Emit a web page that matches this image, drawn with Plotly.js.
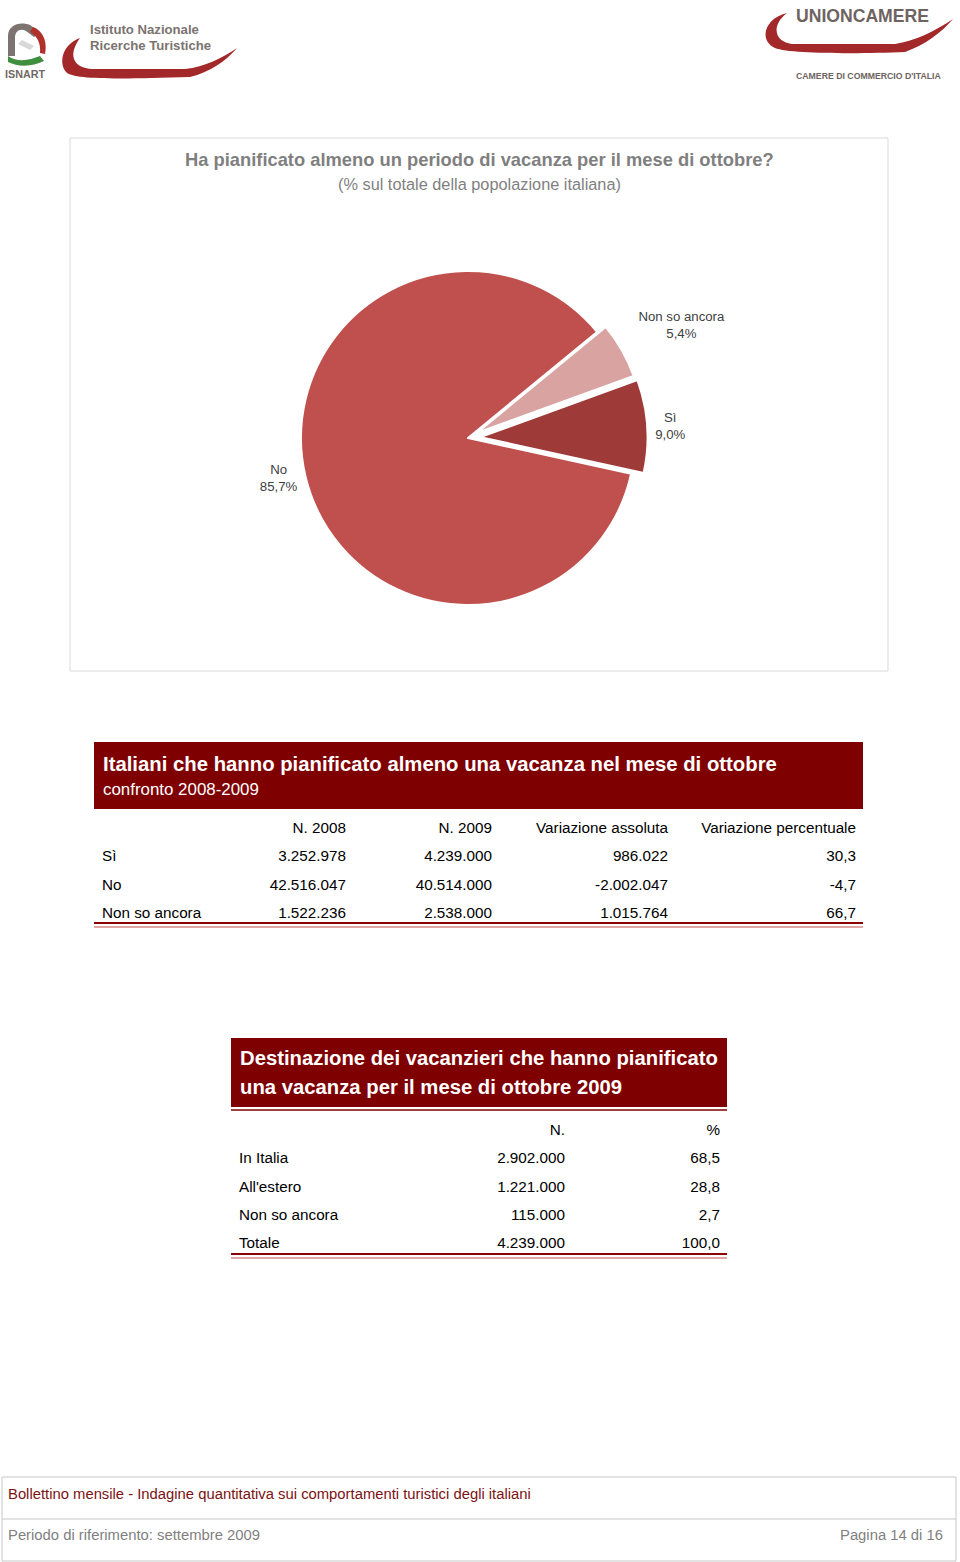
<!DOCTYPE html>
<html><head><meta charset="utf-8">
<script src="https://cdn.plot.ly/plotly-3.0.1.min.js"></script>
<style>html,body{margin:0;padding:0;background:#fff;} #page{width:960px;height:1562px;}</style>
</head><body><div id="page"></div>
<script>
// ---------- data ----------
const pieLabels = ['Sì', 'Non so ancora', 'No'];
const pieValues = [9.0, 5.4, 85.7];

const t1Columns = ['', 'N. 2008', 'N. 2009', 'Variazione assoluta', 'Variazione percentuale'];
const t1Rows = ['Sì', 'No', 'Non so ancora'];
const t1N2008 = ['3.252.978', '42.516.047', '1.522.236'];
const t1N2009 = ['4.239.000', '40.514.000', '2.538.000'];
const t1VarAbs = ['986.022', '-2.002.047', '1.015.764'];
const t1VarPct = ['30,3', '-4,7', '66,7'];

const t2Columns = ['', 'N.', '%'];
const t2Rows = ['In Italia', "All'estero", 'Non so ancora', 'Totale'];
const t2N = ['2.902.000', '1.221.000', '115.000', '4.239.000'];
const t2Pct = ['68,5', '28,8', '2,7', '100,0'];

// ---------- helpers ----------
const W = 960, H = 1562;
const F = '"Liberation Sans", Arial, sans-serif';
const ctx = document.createElement('canvas').getContext('2d');
const fit = (text, w, bold) => { ctx.font = (bold ? 'bold ' : '') + '100px ' + F; return +(100 * w / ctx.measureText(text).width).toFixed(2); };
const px = x => x / W;
const py = y => 1 - y / H;
const P = s => s.replace(/(-?\d+\.?\d*),(-?\d+\.?\d*)/g, (m, a, b) => px(+a).toFixed(5) + ',' + py(+b).toFixed(5));
const rect = (x0, y0, x1, y1, o) => Object.assign({type: 'rect', xref: 'paper', yref: 'paper', x0: px(x0), x1: px(x1), y0: py(y1), y1: py(y0), line: {width: 0}}, o);
const hline = (x0, x1, y, color, w) => ({type: 'line', xref: 'paper', yref: 'paper', x0: px(x0), x1: px(x1), y0: py(y), y1: py(y), line: {color: color, width: w}});
const path = (s, fill) => ({type: 'path', xref: 'paper', yref: 'paper', path: P(s), fillcolor: fill, line: {width: 0}});
const ann = (text, x, y, size, color, xanchor, bold) => ({
  text: bold ? '<b>' + text + '</b>' : text, x: px(x), y: py(y), xref: 'paper', yref: 'paper',
  xanchor: xanchor || 'left', yanchor: 'middle', showarrow: false, borderpad: 0,
  font: {family: F, size: size, color: color}
});

const maroon = '#7f0000';

// ---------- traces ----------
const pieR = 167, maxPull = 0.075, cx = 468, cy = 438;
const half = pieR * (1 + maxPull);
const pie = {
  type: 'pie', labels: pieLabels, values: pieValues, sort: false,
  direction: 'counterclockwise', rotation: 70,
  pull: [0.075, 0.06, 0],
  marker: {colors: ['#9e3b39', '#d9a3a2', '#c0504d'], line: {color: '#ffffff', width: 2}},
  text: pieValues.map(v => v.toFixed(1).replace('.', ',') + '%'),
  texttemplate: ['%{label}<br>%{text}', '%{label}<br>%{text}<br>\u00a0<br>\u00a0', '%{label}<br>%{text}'],
  textposition: 'outside',
  textfont: {family: F, size: fit('Non so ancora', 86, false), color: '#404040'},
  hoverinfo: 'none', showlegend: false,
  domain: {x: [px(cx - half), px(cx + half)], y: [py(cy + half), py(cy - half)]}
};

const tSize = fit('Variazione percentuale', 155, false);
const tableFont = {family: F, size: tSize, color: '#000000'};
const noLine = {width: 0, color: 'rgba(0,0,0,0)'};
const clear = {color: 'rgba(0,0,0,0)'};
const table1 = {
  type: 'table',
  domain: {x: [px(94), px(864)], y: [py(1000), py(814)]},
  columnwidth: [156, 104, 146, 176, 188],
  header: {values: t1Columns, align: ['left', 'right', 'right', 'right', 'right'], height: 28, fill: clear, line: noLine, font: tableFont},
  cells: {values: [t1Rows, t1N2008, t1N2009, t1VarAbs, t1VarPct], align: ['left', 'right', 'right', 'right', 'right'], height: 28.3, fill: clear, line: noLine, font: tableFont}
};
const table2 = {
  type: 'table',
  domain: {x: [px(231), px(728)], y: [py(1300), py(1116)]},
  columnwidth: [169, 173, 155],
  header: {values: t2Columns, align: ['left', 'right', 'right'], height: 28, fill: clear, line: noLine, font: tableFont},
  cells: {values: [t2Rows, t2N, t2Pct], align: ['left', 'right', 'right'], height: 28.2, fill: clear, line: noLine, font: tableFont}
};

// ---------- decorations ----------
const shapes = [
  rect(70, 138, 888, 671, {line: {color: '#d9d9d9', width: 1}}),
  rect(94, 742, 863, 809, {fillcolor: maroon}),
  hline(94, 863, 923, '#8b0000', 2),
  hline(94, 863, 927, '#c0504d', 1),
  rect(231, 1038, 727, 1107, {fillcolor: maroon}),
  hline(231, 727, 1110, maroon, 1.5),
  hline(231, 727, 1254, '#8b0000', 2),
  hline(231, 727, 1258, '#c0504d', 1),
  rect(2, 1477, 956, 1561, {line: {color: '#c8c8c8', width: 1}}),
  hline(2, 956, 1519, '#c8c8c8', 1),
  // ISNART swoosh
  path('M 80,38 C 63,44 58,62 66,72 C 74,80 120,79 190,77 C 210,72 225,62 237,48 C 222,58 205,67 185,69 L 92,69 C 74,68 67,56 80,38 Z', '#a3282a'),
  // ISNART emblem
  path('M 8,56 L 8,36 C 8,25 20,21 30,25 L 40,32 L 34,37 L 26,31 C 20,28 15,31 15,38 L 15,56 Z', '#7d7370'),
  path('M 8,56 C 18,63 30,60 40,56 L 44,61 C 32,67 18,67 8,62 Z', '#3f8f3f'),
  path('M 33,27 C 42,30 48,41 45,54 L 40,53 C 41,43 37,36 30,32 Z', '#b0302c'),
  path('M 22,40 L 34,46 L 30,50 L 18,44 Z', '#d8d8d8'),
  // Unioncamere swoosh
  path('M 787,13 C 765,18 758,40 775,48 C 790,54 860,54 905,52 C 925,45 942,32 953,19 C 935,31 915,41 895,44 L 792,44 C 774,42 771,25 787,13 Z', '#a3282a')
];

const T = {
  title: 'Ha pianificato almeno un periodo di vacanza per il mese di ottobre?',
  sub: '(% sul totale della popolazione italiana)',
  t1a: 'Italiani che hanno pianificato almeno una vacanza nel mese di ottobre',
  t1b: 'confronto 2008-2009',
  t2a: 'Destinazione dei vacanzieri che hanno pianificato',
  t2b: 'una vacanza per il mese di ottobre 2009',
  f1: 'Bollettino mensile - Indagine quantitativa sui comportamenti turistici degli italiani',
  f2: 'Periodo di riferimento: settembre 2009',
  f3: 'Pagina 14 di 16'
};
const fSize = fit(T.f1, 523, false);
const t2Size = fit(T.t2a, 478, true);
const annotations = [
  ann(T.title, 479, 160, fit(T.title, 589, true), '#7f7f7f', 'center', true),
  ann(T.sub, 479, 184, fit(T.sub, 283, false), '#7f7f7f', 'center', false),
  ann(T.t1a, 102, 764, fit(T.t1a, 674, true), '#ffffff', 'left', true),
  ann(T.t1b, 102, 790, fit(T.t1b, 156, false), '#ffffff', 'left', false),
  ann(T.t2a, 239, 1058, t2Size, '#ffffff', 'left', true),
  ann(T.t2b, 239, 1087, t2Size, '#ffffff', 'left', true),
  ann(T.f1, 7, 1494, fSize, '#7b1113', 'left', false),
  ann(T.f2, 7, 1535, fSize, '#7f7f7f', 'left', false),
  ann(T.f3, 944, 1535, fSize, '#7f7f7f', 'right', false),
  ann('Istituto Nazionale', 89, 30, fit('Istituto Nazionale', 109, true), '#7a7370', 'left', true),
  ann('Ricerche Turistiche', 89, 46, fit('Istituto Nazionale', 109, true), '#7a7370', 'left', true),
  ann('ISNART', 4, 74, fit('ISNART', 40, true), '#6f6866', 'left', true),
  ann('UNIONCAMERE', 795, 16, fit('UNIONCAMERE', 133, true), '#6d6461', 'left', true),
  ann("CAMERE DI COMMERCIO D'ITALIA", 795, 76, fit("CAMERE DI COMMERCIO D'ITALIA", 145, true), '#6d6461', 'left', true)
];

const layout = {
  width: W, height: H, margin: {l: 0, r: 0, t: 0, b: 0, pad: 0},
  paper_bgcolor: '#ffffff', plot_bgcolor: '#ffffff', showlegend: false,
  shapes: shapes, annotations: annotations
};

Plotly.newPlot('page', [pie, table1, table2], layout, {displayModeBar: false, staticPlot: true});
</script>
</body></html>
